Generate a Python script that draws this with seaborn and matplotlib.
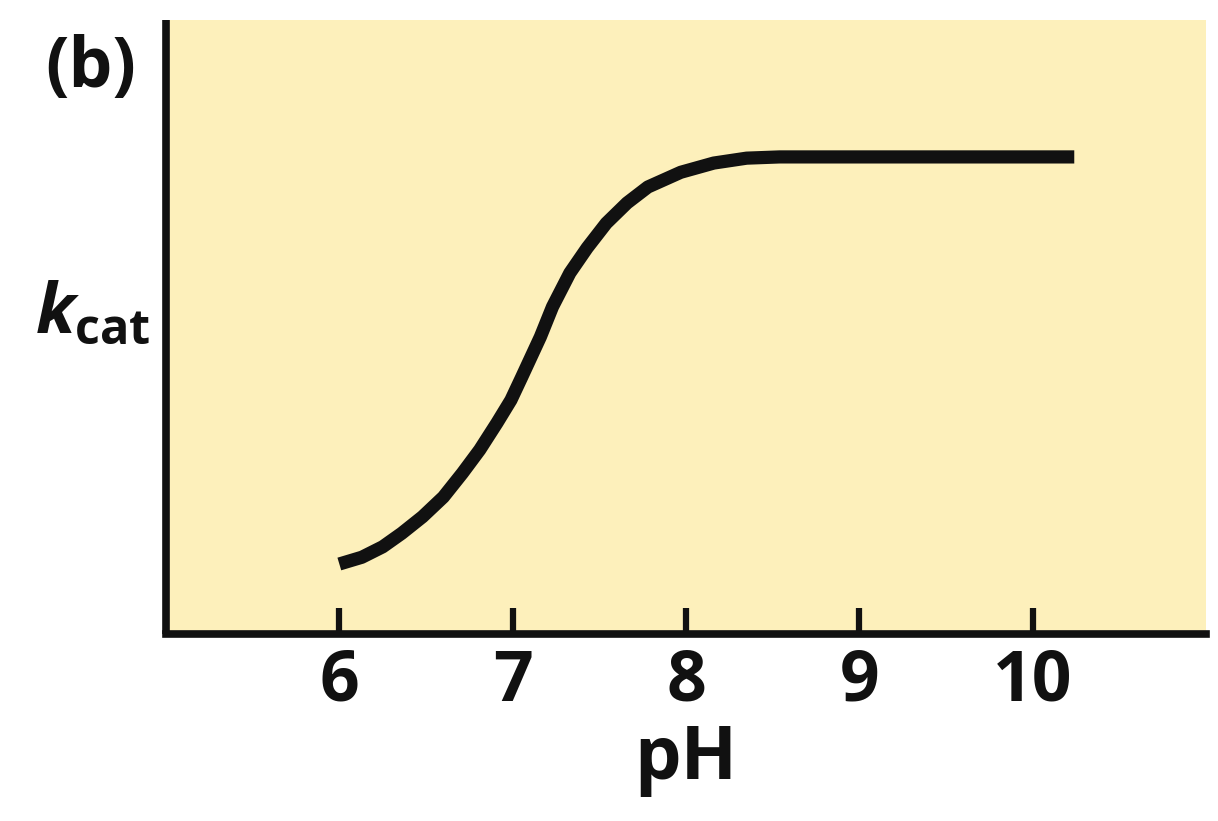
import numpy as np
import pandas as pd
import seaborn as sns
import matplotlib.pyplot as plt

# values (k_cat in arbitrary units, 0 = axis, 1 = top)
ph = [6.00, 6.13, 6.25, 6.36, 6.48, 6.60, 6.71, 6.81, 6.91, 6.99,
      7.05, 7.16, 7.23, 7.33, 7.43, 7.54, 7.66, 7.78, 7.97, 8.16,
      8.35, 8.54, 10.24]
kcat = [0.114, 0.125, 0.142, 0.164, 0.191, 0.223, 0.262, 0.300, 0.344, 0.381,
        0.417, 0.484, 0.533, 0.588, 0.629, 0.669, 0.702, 0.728, 0.752, 0.767,
        0.775, 0.777, 0.777]
xticks = [6, 7, 8, 9, 10]

df = pd.DataFrame({"pH": ph, "kcat": kcat})

sns.set_style("ticks")
plt.rcParams['font.family'] = ['Open Sans', 'DejaVu Sans']
plt.rcParams['font.weight'] = 'bold'
plt.rcParams['mathtext.fontset'] = 'custom'
plt.rcParams['mathtext.it'] = 'Open Sans:italic:bold'
plt.rcParams['mathtext.rm'] = 'Open Sans:bold'
plt.rcParams['mathtext.bf'] = 'Open Sans:bold'

fig = plt.figure(figsize=(12.18, 8.21), dpi=100)
ax = fig.add_axes([166 / 1218, 187 / 821, 1040 / 1218, 614 / 821])
ax.set_facecolor('#FDF0BB')

sns.lineplot(data=df, x="pH", y="kcat", ax=ax, color='#111111', linewidth=9.5,
             estimator=None, sort=False)
ax.lines[0].set_solid_capstyle('butt')
ax.lines[0].set_solid_joinstyle('round')

ax.set_xlim(5, 11)
ax.set_ylim(0, 1)
ax.set_xticks(xticks)
ax.set_xticklabels([str(t) for t in xticks])
ax.set_yticks([])

for s in ['top', 'right']:
    ax.spines[s].set_visible(False)
for s in ['left', 'bottom']:
    ax.spines[s].set_linewidth(5.5)
    ax.spines[s].set_color('#111111')
ax.spines['left'].set_capstyle('butt')
ax.spines['bottom'].set_capstyle('projecting')

ax.tick_params(axis='x', direction='in', length=19, width=4.5, color='#111111',
               labelsize=50, pad=10, labelcolor='#111111')

ax.set_xlabel("pH", fontsize=53, fontweight='bold', color='#111111', labelpad=4)
ax.set_ylabel(r"$k_{\mathrm{cat}}$", fontsize=50, rotation=0, ha='right',
              va='center', color='#111111')
ax.yaxis.set_label_coords(-0.015, 0.52)

fig.text(45 / 1218, 1 - 87 / 821, "(b)", fontsize=50, fontweight='bold',
         color='#111111', va='baseline', ha='left')

fig.savefig("out.png", dpi=100, facecolor='white')
